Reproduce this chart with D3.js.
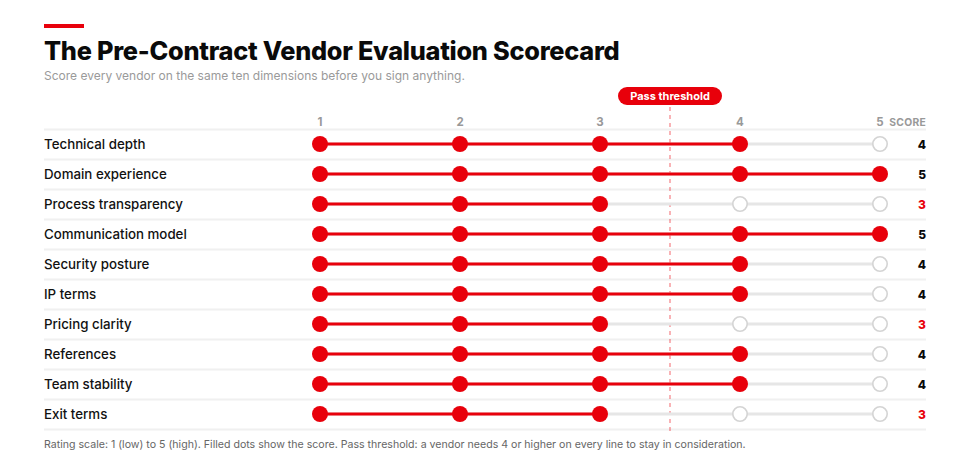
<!DOCTYPE html>
<html><head><meta charset="utf-8">
<script src="https://cdn.jsdelivr.net/npm/d3@7"></script>
<style>
body{margin:0;background:#fff;}
svg{display:block;font-family:Inter, "Noto Sans", sans-serif;}
</style></head>
<body><svg id="c" width="954" height="463"></svg>
<script>
const title = "The Pre-Contract Vendor Evaluation Scorecard";
const subtitle = "Score every vendor on the same ten dimensions before you sign anything.";
const footnote = "Rating scale: 1 (low) to 5 (high). Filled dots show the score. Pass threshold: a vendor needs 4 or higher on every line to stay in consideration.";
const dimensions = ["Technical depth","Domain experience","Process transparency","Communication model","Security posture","IP terms","Pricing clarity","References","Team stability","Exit terms"];
const scores = [4,5,3,5,4,4,3,4,4,3];
const scaleTicks = [1,2,3,4,5];
const threshold = 3.5;
const passScore = 4;
const thresholdLabel = "Pass threshold";
const scoreHeader = "SCORE";

const RED = "#e8000b";
const svg = d3.select("#c");
const x = d3.scaleLinear().domain([1,5]).range([320,880]);
const y = d3.scaleBand().domain(dimensions).range([129,429]);
const left = 44, right = 926;

// header
svg.append("rect").attr("x",left).attr("y",24).attr("width",40).attr("height",4).attr("fill",RED);
svg.append("text").attr("x",left).attr("y",60).text(title)
  .attr("font-size",25.3).attr("font-weight",800).attr("fill","#0a0a0a").attr("letter-spacing","-0.25");
svg.append("text").attr("x",left).attr("y",80).text(subtitle)
  .attr("font-size",12).attr("fill","#9a9a9a");

// separators
const seps = d3.range(dimensions.length+1).map(i => 129 + i*y.step());
svg.append("g").selectAll("line").data(seps).join("line")
  .attr("x1",left).attr("x2",right).attr("y1",d=>d+0.5).attr("y2",d=>d+0.5)
  .attr("stroke","#f0f0f0").attr("stroke-width",2);

// ticks
svg.append("g").selectAll("text").data(scaleTicks).join("text")
  .attr("x",d=>x(d)).attr("y",126).attr("text-anchor","middle")
  .attr("font-size",11.5).attr("font-weight",700).attr("fill","#999").text(d=>d);
svg.append("text").attr("x",right).attr("y",126).attr("text-anchor","end")
  .attr("font-size",10.3).attr("font-weight",700).attr("fill","#999").attr("letter-spacing","0.3").text(scoreHeader);

// threshold
svg.append("line").attr("x1",x(threshold)).attr("x2",x(threshold)).attr("y1",107).attr("y2",432)
  .attr("stroke",RED).attr("stroke-opacity",0.4).attr("stroke-width",1.5).attr("stroke-dasharray","4,4");
const pill = svg.append("g").attr("transform",`translate(${x(threshold)},96)`);
pill.append("rect").attr("x",-52).attr("y",-9).attr("width",104).attr("height",18).attr("rx",9).attr("fill",RED);
pill.append("text").attr("y",4).attr("text-anchor","middle").attr("font-size",11).attr("font-weight",700)
  .attr("fill","#fff").text(thresholdLabel);

// rows
const rows = svg.append("g").selectAll("g").data(dimensions).join("g")
  .attr("transform",d=>`translate(0,${y(d)+y.bandwidth()/2})`);
rows.append("text").attr("x",left).attr("y",4.5).attr("font-size",13.3).attr("font-weight",500)
  .attr("fill","#111").text(d=>d);
rows.append("line").attr("x1",x(1)).attr("x2",x(5)).attr("stroke","#e6e6e6").attr("stroke-width",3);
rows.append("line").attr("x1",x(1)).attr("x2",(d,i)=>x(scores[i])).attr("stroke",RED).attr("stroke-width",3);
rows.each(function(d,i){
  d3.select(this).selectAll("circle").data(scaleTicks).join("circle")
    .attr("cx",v=>x(v)).attr("r",v=>v<=scores[i]?8:7.2)
    .attr("fill",v=>v<=scores[i]?RED:"#fff")
    .attr("stroke",v=>v<=scores[i]?"none":"#d4d4d4").attr("stroke-width",1.6);
});
rows.append("text").attr("x",right).attr("y",4.5).attr("text-anchor","end")
  .attr("font-size",12).attr("font-weight",800)
  .attr("fill",(d,i)=>scores[i]>=passScore?"#0a0a0a":RED).text((d,i)=>scores[i]);

svg.append("text").attr("x",left).attr("y",448).attr("font-size",10.6).attr("fill","#666").text(footnote);
</script></body></html>
